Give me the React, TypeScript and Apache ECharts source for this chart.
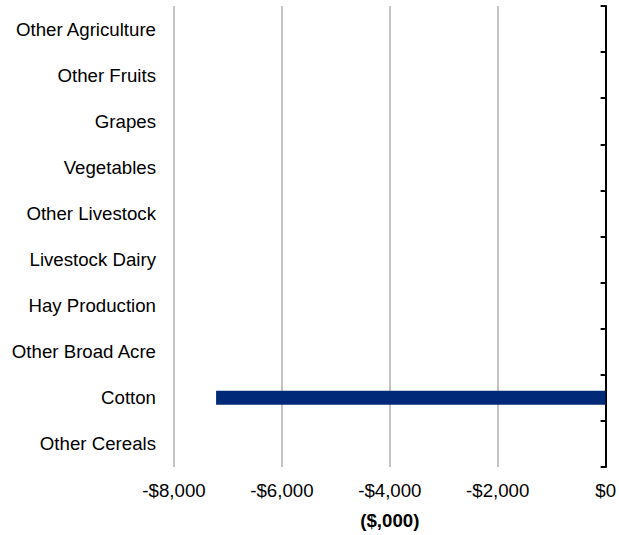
import React, { useEffect, useRef } from "react";
import * as echarts from "echarts";

const categories = [
  "Other Cereals",
  "Cotton",
  "Other Broad Acre",
  "Hay Production",
  "Livestock Dairy",
  "Other Livestock",
  "Vegetables",
  "Grapes",
  "Other Fruits",
  "Other Agriculture",
];
const values = [0, -7220, 0, 0, 0, 0, 0, 0, 0, 0];
const xMin = -8000;
const xMax = 0;
const xInterval = 2000;

function fmt(v: number): string {
  const a = Math.abs(v).toLocaleString("en-US");
  return (v < 0 ? "-$" : "$") + a;
}

export default function App() {
  const ref = useRef<HTMLDivElement>(null);
  useEffect(() => {
    if (!ref.current) return;
    const chart = echarts.init(ref.current, null, { renderer: "svg" });
    const font = "'Liberation Sans', Arial, sans-serif";
    const fs = 18.67;
    chart.setOption({
      animation: false,
      grid: { left: 174, right: 12, top: 6, bottom: 68 },
      xAxis: {
        type: "value",
        min: xMin,
        max: xMax,
        interval: xInterval,
        axisLine: { show: false },
        axisTick: { show: false },
        splitLine: { show: true, lineStyle: { color: "#c4c4c4", width: 2 } },
        axisLabel: {
          formatter: (v: number) => fmt(v),
          color: "#000",
          fontFamily: font,
          fontSize: fs,
          margin: 14,
        },
        name: "($,000)",
        nameLocation: "middle",
        nameGap: 44,
        nameTextStyle: { color: "#000", fontFamily: font, fontSize: fs, fontWeight: "bold" },
      },
      yAxis: [
        {
          type: "category",
          data: categories,
          position: "left",
          axisLine: { show: false },
          axisTick: { show: false },
          splitLine: { show: false },
          axisLabel: { color: "#000", fontFamily: font, fontSize: fs, margin: 18 },
        },
        {
          type: "category",
          data: categories,
          position: "right",
          axisLine: { show: true, lineStyle: { color: "#000", width: 2 } },
          axisTick: { show: true, inside: true, length: 5, lineStyle: { color: "#000", width: 2 } },
          axisLabel: { show: false },
          splitLine: { show: false },
        },
      ],
      series: [
        {
          type: "bar",
          yAxisIndex: 0,
          data: values,
          barWidth: 14,
          itemStyle: { color: "#002a78" },
        },
      ],
    });
    return () => chart.dispose();
  }, []);
  return <div ref={ref} style={{ width: 619, height: 535, position: "absolute", left: 0, top: 0 }} />;
}
